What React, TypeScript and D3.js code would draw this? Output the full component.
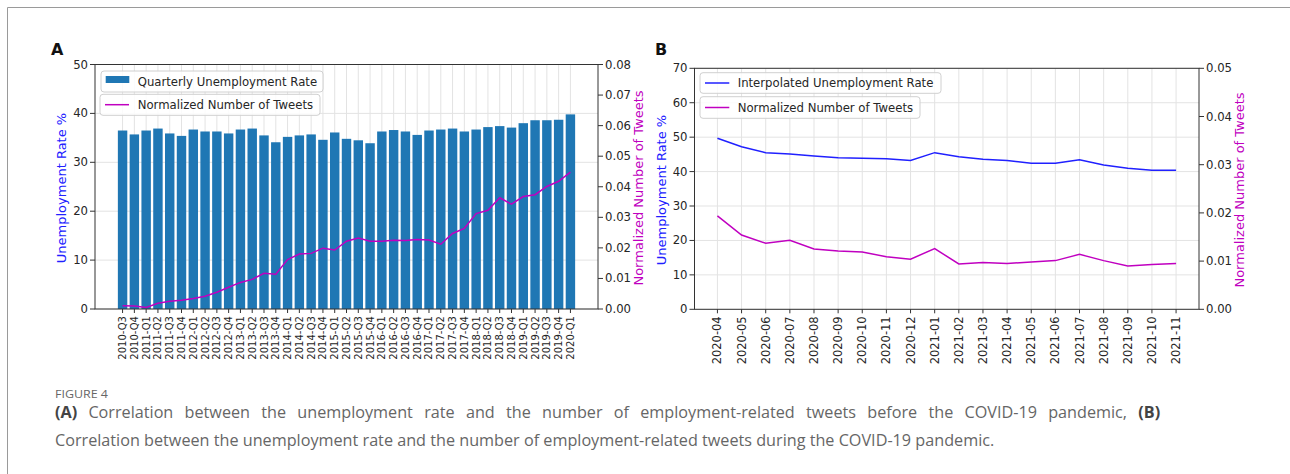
import React, { useLayoutEffect, useRef, useState } from "react";
import * as d3 from "d3";

// ---------- Panel A data ----------
const quartersA = [
  "2010-Q3","2010-Q4",
  "2011-Q1","2011-Q2","2011-Q3","2011-Q4",
  "2012-Q1","2012-Q2","2012-Q3","2012-Q4",
  "2013-Q1","2013-Q2","2013-Q3","2013-Q4",
  "2014-Q1","2014-Q2","2014-Q3","2014-Q4",
  "2015-Q1","2015-Q2","2015-Q3","2015-Q4",
  "2016-Q1","2016-Q2","2016-Q3","2016-Q4",
  "2017-Q1","2017-Q2","2017-Q3","2017-Q4",
  "2018-Q1","2018-Q2","2018-Q3","2018-Q4",
  "2019-Q1","2019-Q2","2019-Q3","2019-Q4",
  "2020-Q1",
];
const unemploymentA = [
  36.5, 35.7, 36.5, 36.9, 35.9, 35.4, 36.7, 36.3, 36.3, 35.9,
  36.7, 36.9, 35.5, 34.1, 35.2, 35.5, 35.7, 34.6, 36.1, 34.8,
  34.5, 33.9, 36.3, 36.6, 36.3, 35.6, 36.5, 36.7, 36.9, 36.3,
  36.7, 37.2, 37.4, 37.1, 38.0, 38.6, 38.6, 38.7, 39.8,
];
const tweetsA = [
  0.0011, 0.0010, 0.0005, 0.0019, 0.0025, 0.0029, 0.0034, 0.0042, 0.0055, 0.0071,
  0.0087, 0.0097, 0.0117, 0.0114, 0.0162, 0.0180, 0.0182, 0.0199, 0.0193, 0.0222,
  0.0232, 0.0222, 0.0222, 0.0225, 0.0224, 0.0227, 0.0226, 0.0212, 0.0247, 0.0264,
  0.0312, 0.0323, 0.0364, 0.0343, 0.0368, 0.0374, 0.0401, 0.0418, 0.0448,
];
const leftTicksA = [0, 10, 20, 30, 40, 50];
const rightTicksA = [0, 0.01, 0.02, 0.03, 0.04, 0.05, 0.06, 0.07, 0.08];

// ---------- Panel B data ----------
const monthsB = [
  "2020-04","2020-05","2020-06","2020-07","2020-08","2020-09","2020-10","2020-11","2020-12",
  "2021-01","2021-02","2021-03","2021-04","2021-05","2021-06","2021-07","2021-08","2021-09","2021-10","2021-11",
];
const unemploymentB = [
  49.7, 47.2, 45.5, 45.1, 44.5, 44.0, 43.9, 43.7, 43.2, 45.5,
  44.3, 43.6, 43.2, 42.4, 42.4, 43.4, 41.9, 41.0, 40.4, 40.4,
];
const tweetsB = [
  0.0194, 0.0154, 0.0137, 0.0143, 0.0125, 0.0121, 0.0119, 0.0109, 0.0104, 0.0126,
  0.0094, 0.0097, 0.0095, 0.0098, 0.0101, 0.0114, 0.0101, 0.0090, 0.0093, 0.0095,
];
const leftTicksB = [0, 10, 20, 30, 40, 50, 60, 70];
const rightTicksB = [0, 0.01, 0.02, 0.03, 0.04, 0.05];

const captionTitle = "FIGURE 4";
const captionLine1 = "Correlation between the unemployment rate and the number of employment-related tweets before the COVID-19 pandemic,";
const captionLine2 = "Correlation between the unemployment rate and the number of employment-related tweets during the COVID-19 pandemic.";

const BAR_BLUE = "#1f77b4";
const LINE_BLUE = "#2020ff";
const MAGENTA = "#c000c0";
const FONT = "'DejaVu Sans', sans-serif";
const CAP_FONT = "'Open Sans', sans-serif";
const TICK_COLOR = "#262626";
const GRID = "#e3e3e3";

type Box = { left: number; right: number; top: number; bottom: number };

function Axes({ box, x, yL, yR, cats, leftTicks, rightTicks, tickFont, rightFmt }: any) {
  const b: Box = box;
  return (
    <g>
      <rect x={b.left} y={b.top} width={b.right - b.left} height={b.bottom - b.top} fill="none" stroke="#333" strokeWidth={1} />
      {leftTicks.map((t: number) => (
        <g key={"l" + t}>
          <line x1={b.left - 5} x2={b.left} y1={yL(t)} y2={yL(t)} stroke="#333" />
          <text x={b.left - 7} y={yL(t)} textAnchor="end" dominantBaseline="central" fontSize={11.7} fill={TICK_COLOR} fontFamily={FONT}>{t}</text>
        </g>
      ))}
      {rightTicks.map((t: number) => (
        <g key={"r" + t}>
          <line x1={b.right} x2={b.right + 5} y1={yR(t)} y2={yR(t)} stroke="#333" />
          <text x={b.right + 7} y={yR(t)} textAnchor="start" dominantBaseline="central" fontSize={11.7} fill={TICK_COLOR} fontFamily={FONT}>{rightFmt(t)}</text>
        </g>
      ))}
      {cats.map((c: string, i: number) => (
        <g key={"x" + c}>
          <line x1={x(i)} x2={x(i)} y1={b.bottom} y2={b.bottom + 4} stroke="#333" />
          <text transform={`translate(${x(i)},${b.bottom + 7}) rotate(-90)`} textAnchor="end" dominantBaseline="central" fontSize={tickFont} fill={TICK_COLOR} fontFamily={FONT}>{c}</text>
        </g>
      ))}
    </g>
  );
}

function Grid({ box, x, yL, cats, leftTicks }: any) {
  const b: Box = box;
  return (
    <g>
      {cats.map((c: string, i: number) => (
        <line key={"gv" + c} x1={x(i)} x2={x(i)} y1={b.top} y2={b.bottom} stroke={GRID} strokeWidth={1} />
      ))}
      {leftTicks.map((t: number) => (
        <line key={"gh" + t} x1={b.left} x2={b.right} y1={yL(t)} y2={yL(t)} stroke={GRID} strokeWidth={1} />
      ))}
    </g>
  );
}

function LegendBox({ x, y, w, h, children }: any) {
  return (
    <g>
      <rect x={x} y={y} width={w} height={h} rx={3} ry={3} fill="white" fillOpacity={0.85} stroke="#d0d0d0" strokeWidth={1} />
      {children}
    </g>
  );
}

function Caption() {
  const l1 = useRef<SVGTextElement>(null);
  const l2 = useRef<SVGTextElement>(null);
  const [lay, setLay] = useState<{ sx: number; ws: number } | null>(null);
  const LINE1_W = 1106;
  const LINE2_W = 940;
  useLayoutEffect(() => {
    if (lay || !l1.current || !l2.current) return;
    const w1 = l1.current.getComputedTextLength();
    const w2 = l2.current.getComputedTextLength();
    const sx = LINE2_W / w2;
    const gaps = (captionLine1.match(/ /g) || []).length + 2;
    const ws = Math.max(0, (LINE1_W / sx - w1) / gaps);
    setLay({ sx, ws });
  });
  const sx = lay ? lay.sx : 1;
  const ws = lay ? lay.ws : 0;
  return (
    <g>
      <text x={55} y={398} fontSize={11.5} fill="#666" fontFamily={CAP_FONT} textLength={53} lengthAdjust="spacingAndGlyphs">{captionTitle}</text>
      <g transform={`translate(55,418) scale(${sx},1)`}>
        <text ref={l1} x={0} y={0} fontSize={15.5} fill="#666" fontFamily={CAP_FONT} style={{ wordSpacing: ws + "px" }}>
          <tspan fontWeight="bold" fill="#444">(A)</tspan>{" " + captionLine1 + " "}<tspan fontWeight="bold" fill="#444">(B)</tspan>
        </text>
      </g>
      <g transform={`translate(55,446) scale(${sx},1)`}>
        <text ref={l2} x={0} y={0} fontSize={15.5} fill="#666" fontFamily={CAP_FONT}>{captionLine2}</text>
      </g>
    </g>
  );
}

export default function App() {
  const boxA: Box = { left: 95, right: 598, top: 64.5, bottom: 309 };
  const nA = quartersA.length;
  const mA = 0.05 * (nA - 1 + 0.8);
  const xA = d3.scaleLinear().domain([-0.4 - mA, nA - 1 + 0.4 + mA]).range([boxA.left, boxA.right]);
  const yLA = d3.scaleLinear().domain([0, 50]).range([boxA.bottom, boxA.top]);
  const yRA = d3.scaleLinear().domain([0, 0.08]).range([boxA.bottom, boxA.top]);
  const barW = xA(0.8) - xA(0);
  const lineA = d3.line<number>().x((_, i) => xA(i)).y((d) => yRA(d));

  const boxB: Box = { left: 694.5, right: 1199, top: 68.3, bottom: 309.3 };
  const nB = monthsB.length;
  const mB = 0.05 * (nB - 1);
  const xB = d3.scaleLinear().domain([-mB, nB - 1 + mB]).range([boxB.left, boxB.right]);
  const yLB = d3.scaleLinear().domain([0, 70]).range([boxB.bottom, boxB.top]);
  const yRB = d3.scaleLinear().domain([0, 0.05]).range([boxB.bottom, boxB.top]);
  const lineBL = d3.line<number>().x((_, i) => xB(i)).y((d) => yLB(d));
  const lineBR = d3.line<number>().x((_, i) => xB(i)).y((d) => yRB(d));

  const fmt2 = (t: number) => t.toFixed(2);

  return (
    <svg width={1290} height={474} style={{ position: "absolute", left: 0, top: 0, background: "white" }}>
      <rect x={0} y={0} width={1290} height={474} fill="white" />
      <path d="M7.5,474 V7.5 H1290" fill="none" stroke="#9a9a9a" strokeWidth={1} />

      {/* ===== Panel A ===== */}
      <text x={51} y={55} fontSize={16} fontWeight="bold" fontFamily={FONT} fill="#111">A</text>
      <Grid box={boxA} x={xA} yL={yLA} cats={quartersA} leftTicks={leftTicksA} />
      {unemploymentA.map((v, i) => (
        <rect key={"bar" + i} x={xA(i) - barW / 2} y={yLA(v)} width={barW} height={yLA(0) - yLA(v)} fill={BAR_BLUE} />
      ))}
      <path d={lineA(tweetsA) || ""} fill="none" stroke={MAGENTA} strokeWidth={1.5} />
      <Axes box={boxA} x={xA} yL={yLA} yR={yRA} cats={quartersA} leftTicks={leftTicksA} rightTicks={rightTicksA} tickFont={10} rightFmt={fmt2} />
      <text transform={`translate(61,188) rotate(-90)`} textAnchor="middle" dominantBaseline="central" fontSize={13} fill={LINE_BLUE} fontFamily={FONT}>Unemployment Rate %</text>
      <text transform={`translate(638,188) rotate(-90)`} textAnchor="middle" dominantBaseline="central" fontSize={13} fill={MAGENTA} fontFamily={FONT}>Normalized Number of Tweets</text>
      <LegendBox x={101} y={71} w={222} h={21}>
        <rect x={105.7} y={76} width={23.6} height={7} fill={BAR_BLUE} />
        <text x={137.7} y={81.5} dominantBaseline="central" fontSize={11.7} fill={TICK_COLOR} fontFamily={FONT}>Quarterly Unemployment Rate</text>
      </LegendBox>
      <LegendBox x={100} y={94.3} w={220} h={21}>
        <line x1={105} x2={129} y1={104.7} y2={104.7} stroke={MAGENTA} strokeWidth={1.5} />
        <text x={137.7} y={104.7} dominantBaseline="central" fontSize={11.7} fill={TICK_COLOR} fontFamily={FONT}>Normalized Number of Tweets</text>
      </LegendBox>

      {/* ===== Panel B ===== */}
      <text x={655} y={55} fontSize={16} fontWeight="bold" fontFamily={FONT} fill="#111">B</text>
      <Grid box={boxB} x={xB} yL={yLB} cats={monthsB} leftTicks={leftTicksB} />
      <path d={lineBL(unemploymentB) || ""} fill="none" stroke={LINE_BLUE} strokeWidth={1.5} />
      <path d={lineBR(tweetsB) || ""} fill="none" stroke={MAGENTA} strokeWidth={1.5} />
      <Axes box={boxB} x={xB} yL={yLB} yR={yRB} cats={monthsB} leftTicks={leftTicksB} rightTicks={rightTicksB} tickFont={11.5} rightFmt={fmt2} />
      <text transform={`translate(661,190) rotate(-90)`} textAnchor="middle" dominantBaseline="central" fontSize={13} fill={LINE_BLUE} fontFamily={FONT}>Unemployment Rate %</text>
      <text transform={`translate(1239,190) rotate(-90)`} textAnchor="middle" dominantBaseline="central" fontSize={13} fill={MAGENTA} fontFamily={FONT}>Normalized Number of Tweets</text>
      <LegendBox x={700} y={72.7} w={241} h={20.6}>
        <line x1={705} x2={729.3} y1={83} y2={83} stroke={LINE_BLUE} strokeWidth={1.5} />
        <text x={737.7} y={83} dominantBaseline="central" fontSize={11.7} fill={TICK_COLOR} fontFamily={FONT}>Interpolated Unemployment Rate</text>
      </LegendBox>
      <LegendBox x={700} y={96.7} w={220} h={21.6}>
        <line x1={705} x2={729.3} y1={107.5} y2={107.5} stroke={MAGENTA} strokeWidth={1.5} />
        <text x={737.7} y={107.5} dominantBaseline="central" fontSize={11.7} fill={TICK_COLOR} fontFamily={FONT}>Normalized Number of Tweets</text>
      </LegendBox>

      {/* ===== Caption ===== */}
      <Caption />
    </svg>
  );
}
